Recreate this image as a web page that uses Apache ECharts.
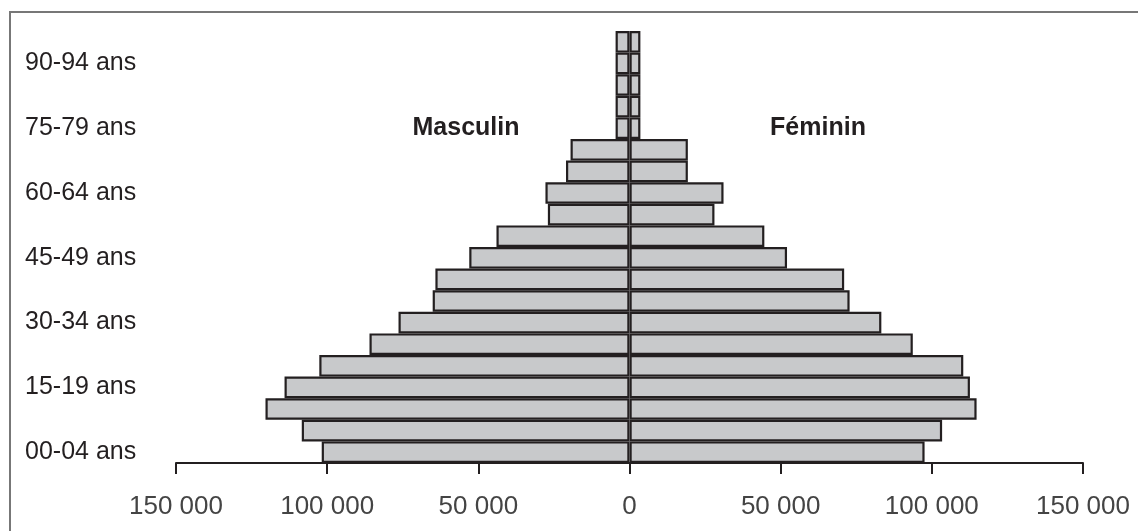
<!DOCTYPE html>
<html>
<head>
<meta charset="utf-8">
<script src="https://cdn.jsdelivr.net/npm/echarts@6/dist/echarts.min.js"></script>
<style>
html,body{margin:0;padding:0;background:#fff;}
#chart{width:1138px;height:531px;}
</style>
</head>
<body>
<div id="chart"></div>
<script>
const categories = ["00-04 ans","05-09 ans","10-14 ans","15-19 ans","20-24 ans","25-29 ans","30-34 ans","35-39 ans","40-44 ans","45-49 ans","50-54 ans","55-59 ans","60-64 ans","65-69 ans","70-74 ans","75-79 ans","80-84 ans","85-89 ans","90-94 ans","95 ans et +"];
const masculin = [101800,108400,120400,114100,102600,86000,76400,65100,64200,53000,44000,27000,27800,21000,19500,4600,4600,4600,4600,4600];
const feminin  = [97600,103400,114800,112600,110400,93700,83300,72800,71000,52100,44600,28100,31100,19300,19300,3600,3600,3600,3600,3600];
const tickValues = [-150000,-100000,-50000,0,50000,100000,150000];
const seriesNames = ["Masculin","Féminin"];

const chart = echarts.init(document.getElementById('chart'));
const fmt = v => Math.abs(v).toString().replace(/\B(?=(\d{3})+(?!\d))/g, ' ');
const barStyle = {color:'#c8c9cb', borderColor:'#231f20', borderWidth:2.2};

chart.setOption({
  animation:false,
  backgroundColor:'#ffffff',
  textStyle:{fontFamily:'"Liberation Sans", Arial, sans-serif'},
  grid:{left:176, right:55, top:31, bottom:68, containLabel:false},
  xAxis:{
    type:'value', min:tickValues[0], max:tickValues[tickValues.length-1], interval:50000,
    axisLine:{show:true, onZero:false, lineStyle:{color:'#231f20', width:2}},
    axisTick:{show:true, length:11, lineStyle:{color:'#231f20', width:2}},
    splitLine:{show:false},
    axisLabel:{formatter:fmt, color:'#444444', fontSize:26, margin:31, fontFamily:'"Liberation Sans", Arial, sans-serif'}
  },
  yAxis:{
    type:'category', data:categories,
    axisLine:{show:false, onZero:false},
    axisTick:{show:false},
    axisLabel:{interval:2, align:'left', margin:151, color:'#231f20', fontSize:25, padding:[0,0,11,0], fontFamily:'"Liberation Sans", Arial, sans-serif'}
  },
  series:[
    {name:seriesNames[0], type:'bar', data:masculin.map(v=>-v), barGap:'-100%', barCategoryGap:0, itemStyle:barStyle},
    {name:seriesNames[1], type:'bar', data:feminin, barGap:'-100%', barCategoryGap:0, itemStyle:barStyle}
  ],
  graphic:[
    {type:'rect', shape:{x:10, y:12, width:1160, height:560}, style:{fill:'none', stroke:'#777777', lineWidth:2}, silent:true, z:-10},
    {type:'text', x:466, y:128, style:{text:seriesNames[0], font:'bold 25px "Liberation Sans", Arial, sans-serif', fill:'#231f20', align:'center', verticalAlign:'middle'}},
    {type:'text', x:818, y:128, style:{text:seriesNames[1], font:'bold 25px "Liberation Sans", Arial, sans-serif', fill:'#231f20', align:'center', verticalAlign:'middle'}}
  ]
});
</script>
</body>
</html>
